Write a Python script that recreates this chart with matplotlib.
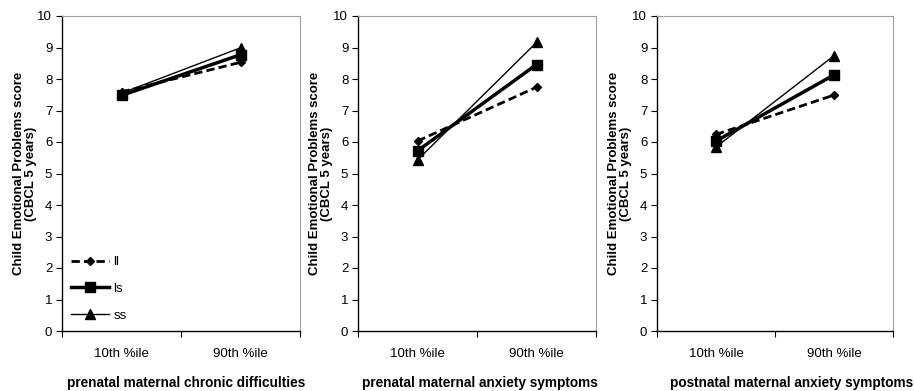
import matplotlib.pyplot as plt

plt.rcParams['font.family'] = ['Liberation Sans', 'DejaVu Sans']

categories = ['10th %ile', '90th %ile']
panel_titles = ['prenatal maternal chronic difficulties',
                'prenatal maternal anxiety symptoms',
                'postnatal maternal anxiety symptoms']

# values per panel: ll, ls, ss
ll_vals = [[7.59, 8.53], [6.03, 7.74], [6.24, 7.49]]
ls_vals = [[7.48, 8.77], [5.72, 8.46], [6.03, 8.13]]
ss_vals = [[7.55, 8.99], [5.43, 9.16], [5.84, 8.74]]

W, H = 914, 391
fig = plt.figure(figsize=(W / 100, H / 100), dpi=100)

# axes boxes in pixels: left, right, and x centre of the bottom title
boxes = [(62, 300), (358, 596), (657, 893)]
title_x = [186, 480, 792]
top, bottom = 16, 331

for i, (x0, x1) in enumerate(boxes):
    ax = fig.add_axes([x0 / W, (H - bottom) / H, (x1 - x0) / W, (bottom - top) / H])
    xs = [0.5, 1.5]
    ax.plot(xs, ll_vals[i], color='black', lw=2, ls=(0, (3, 1.5)),
            marker='D', ms=4.5, label='ll')
    ax.plot(xs, ls_vals[i], color='black', lw=2.5, marker='s', ms=7, label='ls')
    ax.plot(xs, ss_vals[i], color='black', lw=1, marker='^', ms=7, label='ss')

    ax.set_xlim(0, 2)
    ax.set_ylim(0, 10)
    ax.set_yticks(range(0, 11))
    ax.set_xticks([0, 1, 2])
    ax.set_xticklabels([])
    ax.set_xticks(xs, minor=True)
    ax.set_xticklabels(categories, minor=True)
    ax.tick_params(axis='x', which='minor', length=0, pad=12, labelsize=9.5)
    ax.tick_params(axis='x', which='major', length=4, direction='out')
    ax.tick_params(axis='y', length=4, direction='out', labelsize=9.5, pad=3)

    for s in ['top', 'right']:
        ax.spines[s].set_color('#a0a0a0')
        ax.spines[s].set_linewidth(0.8)
    ax.spines['left'].set_linewidth(1)
    ax.spines['bottom'].set_linewidth(1)

    ax.set_ylabel('Child Emotional Problems score\n(CBCL 5 years)',
                  fontsize=9.5, fontweight='bold', labelpad=0.5, linespacing=1.0)
    fig.text(title_x[i] / W, 1 - 383 / H, panel_titles[i], fontsize=9.8,
             fontweight='bold', ha='center', va='center')

    if i == 0:
        ax.legend(loc='lower left', bbox_to_anchor=(0.0, 0.0), frameon=False,
                  fontsize=9.5, handlelength=2.9, handletextpad=0.3,
                  labelspacing=1.1, borderaxespad=0.3)

fig.savefig('out.png', dpi=100)
